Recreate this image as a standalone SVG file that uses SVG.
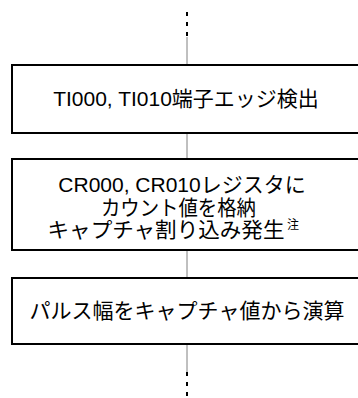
<svg xmlns="http://www.w3.org/2000/svg" width="358" height="398" viewBox="0 0 358 398">
<style>
.box{fill:#fff;stroke:#000;stroke-width:2}
.ln{stroke:#808080;stroke-width:1;fill:none}
.dash{stroke:#000;stroke-width:2;stroke-dasharray:4 6;fill:none}
text{font-family:"Liberation Sans","Noto Sans CJK JP",sans-serif;font-size:21px;fill:#000;text-anchor:middle}
.sup{font-size:12px;text-anchor:start}
</style>
<rect width="358" height="398" fill="#fff"/>
<g id="connectors">
<line class="dash" x1="187" y1="12" x2="187" y2="37"/>
<line class="ln" x1="187" y1="37" x2="187" y2="65"/>
<line class="ln" x1="187" y1="133" x2="187" y2="159"/>
<line class="ln" x1="187" y1="250" x2="187" y2="278"/>
<line class="ln" x1="187" y1="344" x2="187" y2="372"/>
<line class="dash" x1="187" y1="372" x2="187" y2="398"/>
</g>
<g id="node1">
<rect class="box" x="12" y="65" width="350" height="68"/>
<text x="186" y="106">TI000, TI010端子エッジ検出</text>
</g>
<g id="node2">
<rect class="box" x="12" y="159" width="350" height="91"/>
<text x="182" y="192">CR000, CR010レジスタに</text>
<text x="178.5" y="214.5" textLength="155" lengthAdjust="spacingAndGlyphs">カウント値を格納</text>
<text x="166" y="237" textLength="237" lengthAdjust="spacingAndGlyphs">キャプチャ割り込み発生</text>
<text class="sup" x="287" y="229">注</text>
</g>
<g id="node3">
<rect class="box" x="12" y="278" width="350" height="66"/>
<text x="187" y="318">パルス幅をキャプチャ値から演算</text>
</g>
</svg>
